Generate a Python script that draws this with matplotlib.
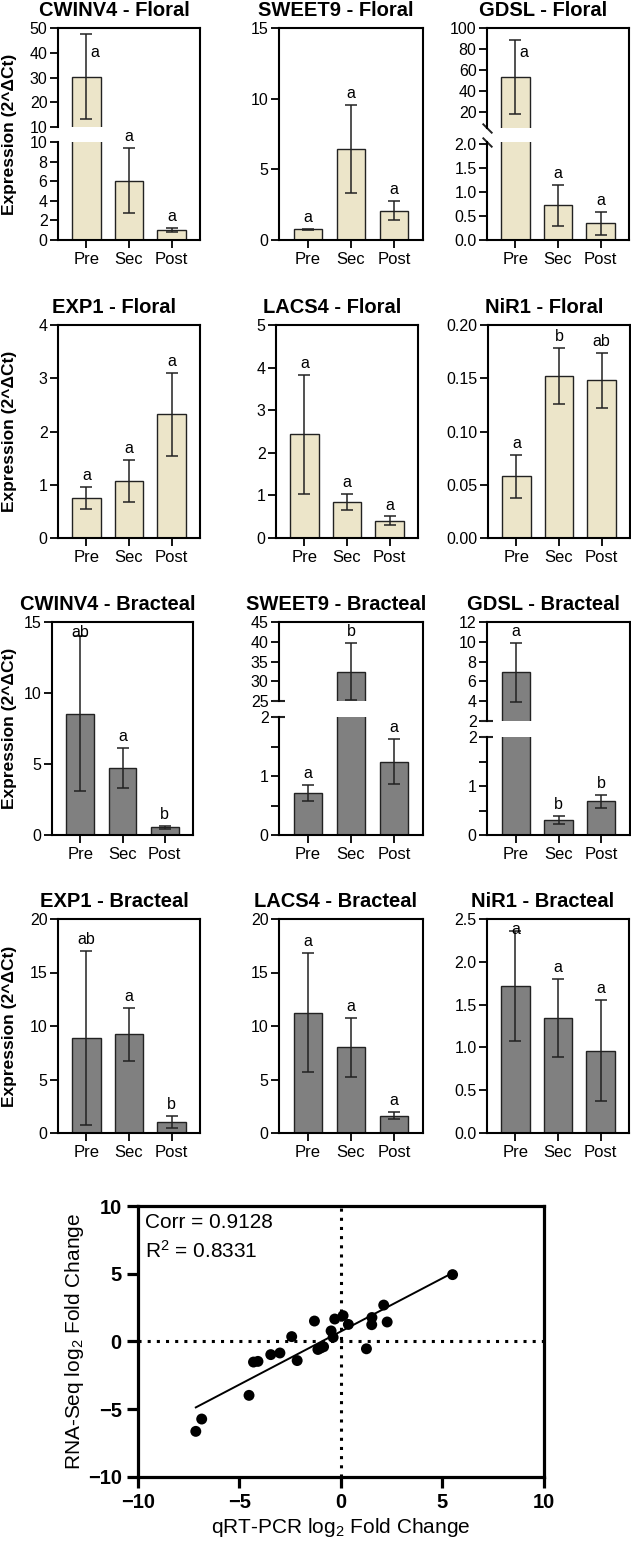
import numpy as np
import matplotlib.pyplot as plt
from matplotlib.ticker import MultipleLocator, FormatStrFormatter

plt.rcParams['font.family'] = ['Liberation Sans', 'DejaVu Sans']
plt.rcParams['mathtext.fontset'] = 'custom'
plt.rcParams['mathtext.rm'] = 'Liberation Sans'
plt.rcParams['mathtext.it'] = 'Liberation Sans:italic'
plt.rcParams['mathtext.bf'] = 'Liberation Sans:bold'

W, H = 631, 1543

genes = ["CWINV4", "SWEET9", "GDSL", "EXP1", "LACS4", "NiR1"]
stages = ["Pre", "Sec", "Post"]

# mean and SD (2^dCt), one row per gene
floral_mean = [[30.4, 6.05, 1.03], [0.75, 6.45, 2.08], [53.4, 0.72, 0.35],
               [0.745, 1.07, 2.32], [2.43, 0.85, 0.41], [0.058, 0.152, 0.148]]
floral_sd = [[17.0, 3.3, 0.24], [0.05, 3.1, 0.66], [35.5, 0.43, 0.24],
             [0.205, 0.39, 0.775], [1.40, 0.19, 0.095], [0.020, 0.026, 0.026]]
floral_letters = [["a", "a", "a"], ["a", "a", "a"], ["a", "a", "a"],
                  ["a", "a", "a"], ["a", "a", "a"], ["a", "b", "ab"]]

bract_mean = [[8.55, 4.70, 0.54], [0.71, 32.4, 1.245], [6.9, 0.30, 0.69],
              [8.85, 9.22, 1.06], [11.24, 8.01, 1.62], [1.717, 1.34, 0.96]]
bract_sd = [[5.45, 1.4, 0.12], [0.13, 7.25, 0.375], [2.95, 0.08, 0.135],
            [8.13, 2.5, 0.57], [5.56, 2.73, 0.35], [0.64, 0.455, 0.59]]
bract_letters = [["ab", "a", "b"], ["a", "b", "a"], ["a", "b", "b"],
                 ["ab", "a", "b"], ["a", "a", "a"], ["a", "a", "a"]]

# qRT-PCR vs RNA-Seq log2 fold changes
qpcr_fc = [5.50, 2.11, 2.28, 1.53, 1.52, 1.26, 0.37, 0.11, -0.30, -0.48, -0.38, -0.85,
           -1.13, -1.30, -2.42, -2.15, -3.00, -3.45, -4.08, -4.30, -4.52, -6.85, -7.14, -1.00]
rnaseq_fc = [4.93, 2.68, 1.43, 1.76, 1.23, -0.55, 1.25, 1.90, 1.65, 0.77, 0.30, -0.40,
             -0.60, 1.50, 0.35, -1.42, -0.86, -0.98, -1.48, -1.53, -3.99, -5.74, -6.65, -0.50]
corr_label = "Corr = 0.9128"
r2_label = "R$^2$ = 0.8331"

FLORAL_COLOR = "#ece5c9"
BRACT_COLOR = "#808080"

# y axis setup: plain -> (ymax, step); broken -> lower (ymax, step) + upper (ymin, ymax, step)
axis_spec = {
    ("CWINV4", "Floral"): dict(lower=(10, 2), upper=(10, 50, 10)),
    ("SWEET9", "Floral"): dict(lower=(15, 5)),
    ("GDSL", "Floral"): dict(lower=(2.04, 0.5), upper=(5, 100, 20), slash=True),
    ("EXP1", "Floral"): dict(lower=(4, 1)),
    ("LACS4", "Floral"): dict(lower=(5, 1)),
    ("NiR1", "Floral"): dict(lower=(0.2, 0.05)),
    ("CWINV4", "Bracteal"): dict(lower=(15, 5)),
    ("SWEET9", "Bracteal"): dict(lower=(2, 1), minor=0.5, upper=(25, 45, 5), cap=True),
    ("GDSL", "Bracteal"): dict(lower=(2, 1), minor=0.5, upper=(2, 12, 2), cap=True),
    ("EXP1", "Bracteal"): dict(lower=(20, 5)),
    ("LACS4", "Bracteal"): dict(lower=(20, 5)),
    ("NiR1", "Bracteal"): dict(lower=(2.5, 0.5)),
}
letter_beside = {("CWINV4", "Floral", 0), ("GDSL", "Floral", 0)}
letter_pinned = {("CWINV4", "Bracteal", 0), ("NiR1", "Bracteal", 0)}

# layout in pixels
row_tb = [(28, 240), (325, 538), (622, 835), (919, 1133)]
col_lr = [[(58, 200), (279, 423), (487, 629)],
          [(58, 200), (276, 418), (488, 630)],
          [(52, 193), (279, 423), (487, 630)],
          [(58, 200), (279, 423), (487, 629)]]
break_px = {("CWINV4", "Floral"): (127, 142), ("GDSL", "Floral"): (128, 142),
            ("SWEET9", "Bracteal"): (701, 717), ("GDSL", "Bracteal"): (721, 737)}


def fig_rect(l, r, t, b):
    return [l / W, 1 - b / H, (r - l) / W, (b - t) / H]


def decimals(step):
    return max(0, int(-np.floor(np.log10(step) + 1e-9)))


def style_y(ax, ymin, ymax, step, minor=None):
    ax.set_ylim(ymin, ymax)
    ax.yaxis.set_major_locator(MultipleLocator(step))
    ax.yaxis.set_major_formatter(FormatStrFormatter('%.' + str(decimals(step)) + 'f'))
    if minor:
        ax.yaxis.set_minor_locator(MultipleLocator(minor))
        ax.tick_params(axis='y', which='minor', length=6, width=1.3, direction='out')
    ax.tick_params(axis='y', length=6, width=1.3, pad=1.5, labelsize=11.5, direction='out')


def style_x(ax):
    ax.set_xticks(range(len(stages)))
    ax.set_xticklabels(stages)
    ax.tick_params(axis='x', length=5.5, width=1.3, pad=3, labelsize=12, direction='out')


def draw_bars(ax, means, sds, color):
    x = np.arange(len(stages))
    ax.bar(x, means, width=0.66, color=color, edgecolor='#222222', linewidth=1.0, zorder=2)
    ax.errorbar(x, means, yerr=sds, fmt='none', ecolor='#222222', elinewidth=1.1,
                capsize=4.5, capthick=1.1, zorder=3)
    ax.set_xlim(-0.67, 2.67)
    ax.patch.set_visible(False)
    for s in ax.spines.values():
        s.set_linewidth(1.5)


def draw_panel(gene, tissue, means, sds, letters, color, l, r, t, b):
    spec = axis_spec[(gene, tissue)]
    lo_max, lo_step = spec['lower']
    if 'upper' in spec:
        gap_t, gap_b = break_px[(gene, tissue)]
        frame = fig.add_axes(fig_rect(l, r, t, b))
        frame.patch.set_visible(False)
        frame.set_xticks([])
        frame.set_yticks([])
        for side in ['left', 'top', 'bottom']:
            frame.spines[side].set_visible(False)
        frame.spines['right'].set_linewidth(1.5)
        upper = fig.add_axes(fig_rect(l, r, t, gap_t))
        lower = fig.add_axes(fig_rect(l, r, gap_b, b))
        draw_bars(upper, means, sds, color)
        draw_bars(lower, means, sds, color)
        up_min, up_max, up_step = spec['upper']
        style_y(upper, up_min, up_max, up_step)
        style_y(lower, 0, lo_max, lo_step, spec.get('minor'))
        upper.spines['bottom'].set_visible(False)
        upper.spines['right'].set_visible(False)
        upper.set_xticks([])
        lower.spines['top'].set_visible(False)
        lower.spines['right'].set_visible(False)
        if spec.get('slash'):
            kw = dict(marker=[(-1, 1), (1, -1)], markersize=7, mew=1.4, color='#222222',
                      linestyle='none', clip_on=False)
            upper.plot([0], [0], transform=upper.transAxes, **kw)
            lower.plot([0], [1], transform=lower.transAxes, **kw)
        if spec.get('cap'):
            kw = dict(marker=[(-1, 0), (1, 0)], markersize=8, mew=1.5, color='#222222',
                      linestyle='none', clip_on=False)
            upper.plot([0], [0], transform=upper.transAxes, **kw)
            lower.plot([0], [1], transform=lower.transAxes, **kw)
    else:
        upper = None
        lower = fig.add_axes(fig_rect(l, r, t, b))
        draw_bars(lower, means, sds, color)
        style_y(lower, 0, lo_max, lo_step, spec.get('minor'))
    style_x(lower)

    top_ax = upper if upper is not None else lower
    for i, (m, sd, txt) in enumerate(zip(means, sds, letters)):
        key = (gene, tissue, i)
        if key in letter_beside:
            top_ax.annotate(txt, xy=(i, 1), xycoords=('data', 'axes fraction'),
                            xytext=(3, -21), textcoords='offset points',
                            ha='left', va='baseline', fontsize=11.5)
        elif key in letter_pinned:
            top_ax.annotate(txt, xy=(i, 1), xycoords=('data', 'axes fraction'),
                            xytext=(0, -2.5), textcoords='offset points',
                            ha='center', va='top', fontsize=11.5)
        else:
            ax = upper if (upper is not None and m + sd > lo_max) else lower
            ax.annotate(txt, xy=(i, m + sd), xytext=(0, 5), textcoords='offset points',
                        ha='center', va='baseline', fontsize=11.5, annotation_clip=False)

    fig.text(((l + r) / 2 - 15) / W, 1 - (t - 12) / H, gene + " - " + tissue,
             ha='center', va='baseline', fontsize=14.5, fontweight='bold')


fig = plt.figure(figsize=(W / 100, H / 100), dpi=100)

panels = [("Floral", floral_mean, floral_sd, floral_letters, FLORAL_COLOR),
          ("Bracteal", bract_mean, bract_sd, bract_letters, BRACT_COLOR)]
for p, (tissue, mean_tab, sd_tab, let_tab, color) in enumerate(panels):
    for g, gene in enumerate(genes):
        row = p * 2 + g // 3
        col = g % 3
        t, b = row_tb[row]
        l, r = col_lr[row][col]
        draw_panel(gene, tissue, mean_tab[g], sd_tab[g], let_tab[g], color, l, r, t, b)

for t, b in row_tb:
    fig.text(10 / W, 1 - (t + b) / 2 / H, "Expression (2^\u0394Ct)", rotation=90,
             ha='center', va='center', fontsize=12.5, fontweight='bold')

# correlation scatter
ax = fig.add_axes(fig_rect(137.7, 544, 1206, 1476.7))
x = np.array(qpcr_fc)
y = np.array(rnaseq_fc)
ax.axhline(0, color='black', lw=2.2, linestyle=(0, (1, 2)), zorder=1)
ax.axvline(0, color='black', lw=2.2, linestyle=(0, (1, 2)), zorder=1)
slope, intercept = np.polyfit(x, y, 1)
xl = np.array([x.min(), x.max()])
ax.plot(xl, slope * xl + intercept, color='black', lw=1.4, zorder=2)
ax.scatter(x, y, s=62, color='black', edgecolors='none', zorder=3)
ax.set_xlim(-10, 10)
ax.set_ylim(-10, 10)
ax.xaxis.set_major_locator(MultipleLocator(5))
ax.yaxis.set_major_locator(MultipleLocator(5))
for s in ax.spines.values():
    s.set_linewidth(2.3)
ax.tick_params(length=8, width=2.3, pad=3.5, labelsize=14.5, direction='out')
for lab in ax.get_xticklabels() + ax.get_yticklabels():
    lab.set_fontweight('bold')
ax.set_xlabel("qRT-PCR log$_2$ Fold Change", fontsize=15, labelpad=3)
ax.set_ylabel("RNA-Seq log$_2$ Fold Change", fontsize=15, labelpad=1)
ax.annotate(corr_label, xy=(0, 1), xycoords='axes fraction', xytext=(5, -16),
            textcoords='offset points', ha='left', va='baseline', fontsize=15)
ax.annotate(r2_label, xy=(0, 1), xycoords='axes fraction', xytext=(5, -37.5),
            textcoords='offset points', ha='left', va='baseline', fontsize=15)

fig.savefig("out.png", dpi=100)
